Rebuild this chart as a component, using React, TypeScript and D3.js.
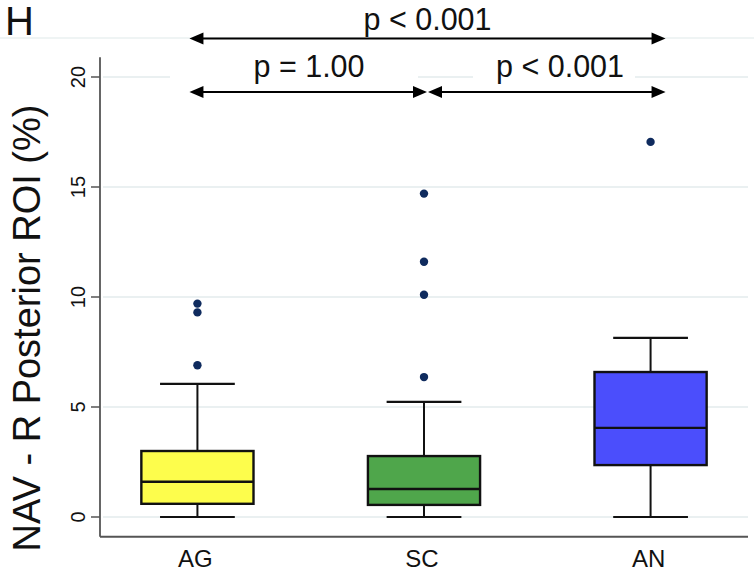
import React from "react";
import * as d3 from "d3";

const categories = ["AG", "SC", "AN"];
const whiskerLow = [0, 0, 0];
const q1 = [0.6, 0.55, 2.36];
const medians = [1.6, 1.27, 4.05];
const q3 = [3.0, 2.77, 6.59];
const whiskerHigh = [6.05, 5.23, 8.14];
const outliers = [
  [9.7, 9.3, 6.9],
  [14.7, 11.6, 10.1, 6.36],
  [17.05],
];
const fills = ["#fdfd4c", "#4fa64b", "#4b4efc"];
const yTicks = [0, 5, 10, 15, 20];
const comparisons = [
  { from: 0, to: 2, label: "p < 0.001", level: 21.75 },
  { from: 0, to: 1, label: "p = 1.00", level: 19.32 },
  { from: 1, to: 2, label: "p < 0.001", level: 19.32 },
];

const W = 754;
const H = 573;
const FONT = "'Liberation Sans', Arial, Helvetica, sans-serif";

export default function App() {
  const x = d3.scalePoint<string>().domain(categories).range([100, 748]).padding(0.43);
  const y = d3.scaleLinear().domain([0, 20]).range([517, 77]);
  const step = x.step();
  const boxW = step * 0.495;
  const capW = step * 0.33;

  const arrowX = (i: number) => {
    const c = x(categories[i])!;
    if (i === 0) return c - 8;
    if (i === 2) return c + 15;
    return c + 3;
  };

  const head = (tipX: number, yy: number, dir: number) => {
    const L = 14, hw = 6;
    return `M${tipX},${yy}L${tipX - dir * L},${yy - hw}L${tipX - dir * L},${yy + hw}Z`;
  };

  return (
    <svg width={W} height={H} style={{ position: "absolute", left: 0, top: 0, background: "#fff" }} fontFamily={FONT}>
      <rect x={0} y={0} width={W} height={H} fill="#fff" />
      {/* faint top line */}
      <line x1={0} x2={W} y1={38} y2={38} stroke="#eaf0f1" strokeWidth={1.5} />
      {/* gridlines */}
      {yTicks.map((t) => (
        <line key={t} x1={103} x2={748} y1={y(t)} y2={y(t)} stroke="#e3ebed" strokeWidth={1.6} />
      ))}
      {/* white backgrounds behind labels */}
      <rect x={170} y={y(20) - 6} width={248} height={12} fill="#fff" />
      <rect x={473} y={y(20) - 6} width={162} height={12} fill="#fff" />

      {/* axes */}
      <line x1={100} x2={100} y1={y(20.9)} y2={y(-0.9)} stroke="#555" strokeWidth={1.8} />
      <line x1={100} x2={748} y1={y(-0.9)} y2={y(-0.9)} stroke="#555" strokeWidth={2} />
      {yTicks.map((t) => (
        <g key={t}>
          <line x1={91} x2={100} y1={y(t)} y2={y(t)} stroke="#555" strokeWidth={1.5} />
          <text
            transform={`translate(84.5,${y(t)}) rotate(-90)`}
            textAnchor="middle"
            fontSize={20}
            fill="#111"
          >
            {t}
          </text>
        </g>
      ))}
      {categories.map((c) => (
        <text key={c} x={x(c)! - 2} y={567} textAnchor="middle" fontSize={24} fill="#111">
          {c}
        </text>
      ))}
      <text transform={`translate(40,328) rotate(-90)`} textAnchor="middle" fontSize={38} fill="#111">
        NAV - R Posterior ROI (%)
      </text>
      <text x={5} y={35} fontSize={40} fill="#111">H</text>

      {/* boxes */}
      {categories.map((c, i) => {
        const cx = x(c)!;
        return (
          <g key={c}>
            <line x1={cx} x2={cx} y1={y(q3[i])} y2={y(whiskerHigh[i])} stroke="#111" strokeWidth={2} />
            <line x1={cx} x2={cx} y1={y(q1[i])} y2={y(whiskerLow[i])} stroke="#111" strokeWidth={2} />
            <line x1={cx - capW / 2} x2={cx + capW / 2} y1={y(whiskerHigh[i])} y2={y(whiskerHigh[i])} stroke="#111" strokeWidth={2.2} />
            <line x1={cx - capW / 2} x2={cx + capW / 2} y1={y(whiskerLow[i])} y2={y(whiskerLow[i])} stroke="#111" strokeWidth={2.2} />
            <rect
              x={cx - boxW / 2}
              y={y(q3[i])}
              width={boxW}
              height={y(q1[i]) - y(q3[i])}
              fill={fills[i]}
              stroke="#111"
              strokeWidth={2.4}
            />
            <line x1={cx - boxW / 2} x2={cx + boxW / 2} y1={y(medians[i])} y2={y(medians[i])} stroke="#111" strokeWidth={2.4} />
            {outliers[i].map((v, k) => (
              <circle key={k} cx={cx} cy={y(v)} r={4.2} fill="#0f2b5e" />
            ))}
          </g>
        );
      })}

      {/* comparison arrows */}
      {comparisons.map((cmp, k) => {
        const x1 = arrowX(cmp.from);
        const x2 = arrowX(cmp.to);
        const yy = y(cmp.level);
        const a = cmp.from === 1 ? x1 + 1 : x1;
        const tx = cmp.from === 0 && cmp.to === 2 ? (a + x2) / 2 : cmp.from === 0 ? 309 : 560;
        return (
          <g key={k}>
            <line x1={a + 10} x2={x2 - 10} y1={yy} y2={yy} stroke="#000" strokeWidth={2} />
            <path d={head(a, yy, -1)} fill="#000" />
            <path d={head(x2, yy, 1)} fill="#000" />
            <text x={tx} y={cmp.level > 21 ? 30 : 77} textAnchor="middle" fontSize={30.5} fill="#111">
              {cmp.label}
            </text>
          </g>
        );
      })}
    </svg>
  );
}
